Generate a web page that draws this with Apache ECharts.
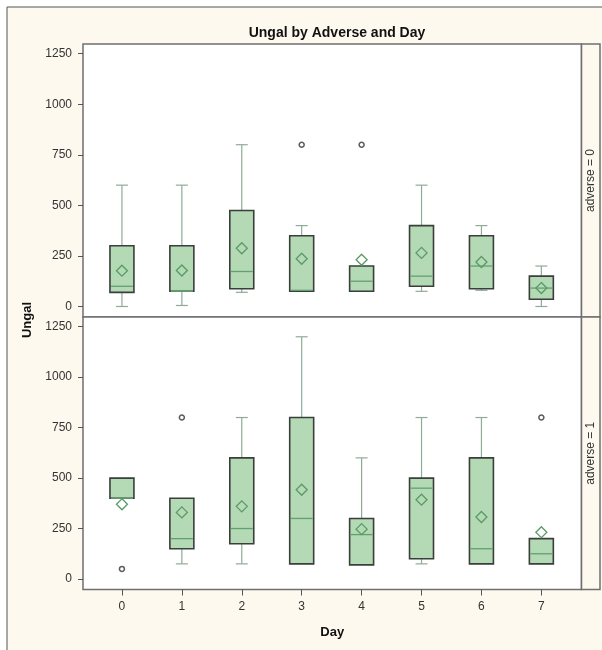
<!DOCTYPE html>
<html>
<head>
<meta charset="utf-8">
<script src="https://cdn.jsdelivr.net/npm/echarts@6/dist/echarts.min.js"></script>
<style>
html,body{margin:0;padding:0;background:#ffffff;}
#chart{width:602px;height:650px;}
</style>
</head>
<body>
<div id="chart"></div>
<script>
// ---- data ----
const days = [0, 1, 2, 3, 4, 5, 6, 7];
const yTicks = [0, 250, 500, 750, 1000, 1250];

// adverse = 0
const a0Min  = [0,   5,   70,  75,  75,  75,  80,  0];
const a0Q1   = [70,  75,  88,  75,  75,  100, 88,  36];
const a0Med  = [100, 75,  173, 80,  125, 150, 200, 91];
const a0Q3   = [300, 300, 475, 350, 200, 400, 350, 150];
const a0Max  = [600, 600, 800, 400, 200, 600, 400, 200];
const a0Mean = [177, 178, 288, 236, 231, 265, 220, 91];
const a0Outliers = [[3, 800], [4, 800]];

// adverse = 1
const a1Min  = [400, 75,  75,  75,  70,  75,  75,  75];
const a1Q1   = [400, 150, 175, 75,  70,  100, 75,  75];
const a1Med  = [400, 200, 250, 300, 220, 450, 150, 125];
const a1Q3   = [500, 400, 600, 800, 300, 500, 600, 200];
const a1Max  = [500, 400, 800, 1200, 600, 800, 800, 200];
const a1Mean = [370, 330, 360, 442, 247, 393, 307, 232];
const a1Outliers = [[0, 50], [1, 800], [7, 800]];

const stripLabels = ['adverse = 0', 'adverse = 1'];

// ---- build ----
function rows(mn, q1, md, q3, mx, mean) {
  return days.map((d, i) => [d, mn[i], q1[i], md[i], q3[i], mx[i], mean[i]]);
}

const FONT = 'Liberation Sans, Arial, sans-serif';
const FRAME = '#6f6f6f';
const BOXFILL = '#b3d9b5';
const BOXLINE = '#3a3f3b';
const WHISK = '#8fab98';
const MEDIAN = '#63a070';
const MEANC = '#5a9a64';

function renderBox(params, api) {
  const x = api.value(0);
  const lo = api.value(1), q1 = api.value(2), med = api.value(3),
        q3 = api.value(4), hi = api.value(5), mean = api.value(6);
  const bw = api.size([0.4, 0])[0];
  const cw = bw / 2;
  const pLo = api.coord([x, lo]);
  const pQ1 = api.coord([x, q1]);
  const pMed = api.coord([x, med]);
  const pQ3 = api.coord([x, q3]);
  const pHi = api.coord([x, hi]);
  const pMean = api.coord([x, mean]);
  const cx = pQ1[0];
  const children = [];
  if (hi > q3) {
    children.push({type: 'line', shape: {x1: cx, y1: pQ3[1], x2: cx, y2: pHi[1]},
      style: {stroke: WHISK, lineWidth: 1.2}});
    children.push({type: 'line', shape: {x1: cx - cw / 2, y1: pHi[1], x2: cx + cw / 2, y2: pHi[1]},
      style: {stroke: WHISK, lineWidth: 1.2}});
  }
  if (lo < q1) {
    children.push({type: 'line', shape: {x1: cx, y1: pQ1[1], x2: cx, y2: pLo[1]},
      style: {stroke: WHISK, lineWidth: 1.2}});
    children.push({type: 'line', shape: {x1: cx - cw / 2, y1: pLo[1], x2: cx + cw / 2, y2: pLo[1]},
      style: {stroke: WHISK, lineWidth: 1.2}});
  }
  children.push({type: 'rect',
    shape: {x: cx - bw / 2, y: pQ3[1], width: bw, height: pQ1[1] - pQ3[1]},
    style: {fill: BOXFILL, stroke: BOXLINE, lineWidth: 1.6}});
  children.push({type: 'line', shape: {x1: cx - bw / 2 + 1, y1: pMed[1], x2: cx + bw / 2 - 1, y2: pMed[1]},
    style: {stroke: MEDIAN, lineWidth: 1.3}});
  const r = 5.5;
  children.push({type: 'polygon',
    shape: {points: [[cx, pMean[1] - r], [cx + r, pMean[1]], [cx, pMean[1] + r], [cx - r, pMean[1]]]},
    style: {fill: 'none', stroke: MEANC, lineWidth: 1.3}});
  return {type: 'group', children: children};
}

const gridL = 83, gridW = 498.5;
const topT = 44, topH = 273, botT = 317, botH = 272.5;

const yAxisBase = (idx) => ({
  gridIndex: idx, type: 'value', min: -52, max: 1298, position: 'left',
  axisLine: {show: false, onZero: false},
  splitLine: {show: false},
  axisTick: {show: true, customValues: yTicks, length: 5, lineStyle: {color: '#555', width: 1}},
  axisLabel: {customValues: yTicks, color: '#333', fontFamily: FONT, fontSize: 12, margin: 11,
              formatter: (v) => String(v)}
});

const chart = echarts.init(document.getElementById('chart'), null, {renderer: 'canvas'});
chart.setOption({
  animation: false,
  backgroundColor: '#ffffff',
  title: {
    text: 'Ungal by Adverse and Day',
    left: 332, top: 21, textAlign: 'center',
    textStyle: {fontFamily: FONT, fontSize: 14, fontWeight: 'bold', color: '#111'}
  },
  grid: [
    {left: gridL, top: topT, width: gridW, height: topH, show: true,
     backgroundColor: '#ffffff', borderColor: FRAME, borderWidth: 1.5},
    {left: gridL, top: botT, width: gridW, height: botH, show: true,
     backgroundColor: '#ffffff', borderColor: FRAME, borderWidth: 1.5}
  ],
  xAxis: [
    {gridIndex: 0, type: 'value', min: -0.65, max: 7.67, position: 'bottom',
     axisLine: {show: false, onZero: false}, axisTick: {show: false}, axisLabel: {show: false}, splitLine: {show: false}},
    {gridIndex: 1, type: 'value', min: -0.65, max: 7.67, position: 'bottom',
     name: 'Day', nameLocation: 'middle', nameGap: 36,
     nameTextStyle: {fontFamily: FONT, fontSize: 13, fontWeight: 'bold', color: '#111'},
     axisLine: {show: false, onZero: false}, splitLine: {show: false},
     axisTick: {show: true, customValues: days, length: 6, lineStyle: {color: '#555', width: 1}},
     axisLabel: {customValues: days, color: '#333', fontFamily: FONT, fontSize: 12, margin: 11,
                 formatter: (v) => String(v)}}
  ],
  yAxis: [yAxisBase(0), yAxisBase(1)],
  series: [
    {type: 'custom', xAxisIndex: 0, yAxisIndex: 0, renderItem: renderBox,
     encode: {x: 0, y: [1, 2, 3, 4, 5, 6]},
     data: rows(a0Min, a0Q1, a0Med, a0Q3, a0Max, a0Mean)},
    {type: 'custom', xAxisIndex: 1, yAxisIndex: 1, renderItem: renderBox,
     encode: {x: 0, y: [1, 2, 3, 4, 5, 6]},
     data: rows(a1Min, a1Q1, a1Med, a1Q3, a1Max, a1Mean)},
    {type: 'scatter', xAxisIndex: 0, yAxisIndex: 0, symbol: 'circle', symbolSize: 5,
     itemStyle: {color: '#ffffff', borderColor: '#333', borderWidth: 1.5},
     data: a0Outliers},
    {type: 'scatter', xAxisIndex: 1, yAxisIndex: 1, symbol: 'circle', symbolSize: 5,
     itemStyle: {color: '#ffffff', borderColor: '#333', borderWidth: 1.5},
     data: a1Outliers}
  ],
  graphic: [
    {type: 'rect', z: -10, silent: true,
     shape: {x: 7, y: 7, width: 620, height: 660},
     style: {fill: '#fdf9ef', stroke: '#555', lineWidth: 1}},
    {type: 'rect', z: 5, silent: true,
     shape: {x: gridL + gridW, y: topT, width: 18.5, height: topH},
     style: {fill: '#fdf9ef', stroke: FRAME, lineWidth: 1.5}},
    {type: 'rect', z: 5, silent: true,
     shape: {x: gridL + gridW, y: botT, width: 18.5, height: botH},
     style: {fill: '#fdf9ef', stroke: FRAME, lineWidth: 1.5}},
    {type: 'text', z: 6, silent: true, x: 591, y: topT + topH / 2, rotation: Math.PI / 2,
     style: {text: stripLabels[0], fontFamily: FONT, fontSize: 12, fill: '#333',
             align: 'center', verticalAlign: 'middle'}},
    {type: 'text', z: 6, silent: true, x: 591, y: botT + botH / 2, rotation: Math.PI / 2,
     style: {text: stripLabels[1], fontFamily: FONT, fontSize: 12, fill: '#333',
             align: 'center', verticalAlign: 'middle'}},
    {type: 'text', z: 6, silent: true, x: 27, y: 320, rotation: Math.PI / 2,
     style: {text: 'Ungal', fontFamily: FONT, fontSize: 13, fontWeight: 'bold', fill: '#111',
             align: 'center', verticalAlign: 'middle'}}
  ]
});
</script>
</body>
</html>
